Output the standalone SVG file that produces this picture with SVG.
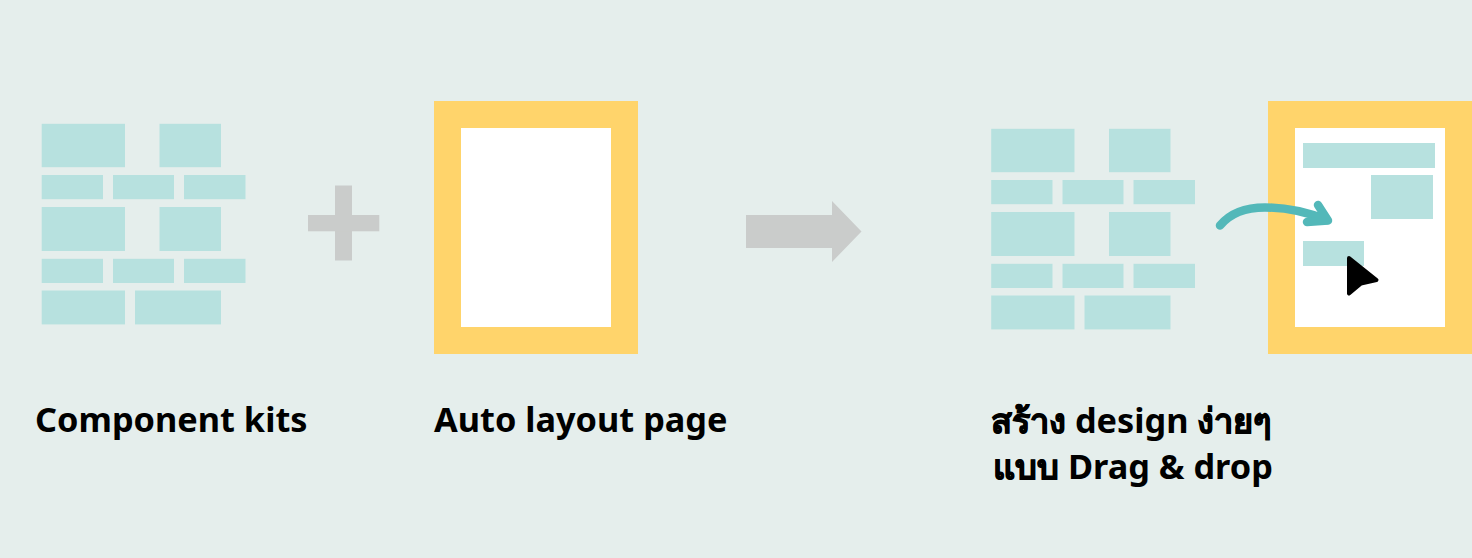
<svg xmlns="http://www.w3.org/2000/svg" width="1472" height="558" viewBox="0 0 1472 558">
<style>
.b{fill:#b7e1df}
.g{fill:#cacccb}
.y{fill:#ffd46b}
.w{fill:#fff}
.c{fill:none;stroke:#53b8b9;stroke-width:8.500;stroke-linecap:round;stroke-linejoin:round}
text{font-family:"Noto Sans","Noto Sans CJK SC",sans-serif;font-weight:700;font-size:34.300px;fill:#000}
.t{stroke:#000;stroke-width:.9px}
</style>
<defs>
<g id="kit">
<rect class="b" x="41.700" y="123.800" width="83.300" height="43.400"/>
<rect class="b" x="159.500" y="123.800" width="61.500" height="43.400"/>
<rect class="b" x="41.700" y="175" width="61.300" height="24.200"/>
<rect class="b" x="113" y="175" width="61" height="24.200"/>
<rect class="b" x="184" y="175" width="61.500" height="24.200"/>
<rect class="b" x="41.700" y="207" width="83.300" height="44"/>
<rect class="b" x="159.500" y="207" width="61.500" height="44"/>
<rect class="b" x="41.700" y="258.800" width="61.300" height="24.200"/>
<rect class="b" x="113" y="258.800" width="61" height="24.200"/>
<rect class="b" x="184" y="258.800" width="61.500" height="24.200"/>
<rect class="b" x="41.700" y="290.500" width="83.300" height="33.900"/>
<rect class="b" x="135" y="290.500" width="86" height="33.900"/>
</g>
</defs>
<rect width="1472" height="558" fill="#e5eeec"/>
<g id="kit-left"><use href="#kit"/></g>
<g id="plus"><rect class="g" x="335" y="185.500" width="17" height="75"/><rect class="g" x="308" y="215" width="71.300" height="16.300"/></g>
<g id="page-left"><rect class="y" x="434" y="101" width="204" height="253"/><rect class="w" x="461" y="128" width="150" height="199"/></g>
<g id="arrow-big"><path class="g" d="M746 215H832V201L861.500 231.500L832 262V248H746Z"/></g>
<g id="kit-right"><use href="#kit" x="949.500" y="5"/></g>
<g id="page-right">
<rect class="y" x="1268" y="101" width="204" height="253"/>
<rect class="w" x="1295" y="128" width="150" height="199"/>
<rect class="b" x="1303" y="143" width="132" height="25"/>
<rect class="b" x="1371" y="175" width="62" height="44"/>
<rect class="b" x="1303" y="241" width="61" height="25"/>
</g>
<g id="connectors">
<path class="c" d="M1220 225.500C1232 211 1248 207.500 1265 207.500C1287 207.500 1307 212 1327 220"/>
<path class="c" d="M1318 205L1328 220.500L1307 222"/>
</g>
<g id="cursor"><path d="M1349 258L1376.500 280L1361 283.500L1349 293.500Z" fill="#000" stroke="#000" stroke-width="4" stroke-linejoin="round"/></g>
<g id="label-1"><text x="35" y="432">Component kits</text></g>
<g id="label-2"><text x="434" y="432">Auto layout page</text></g>
<g id="label-3"><text x="991" y="433"><tspan class="t">สร้าง</tspan> design <tspan class="t">ง่ายๆ</tspan></text><text x="993" y="479"><tspan class="t">แบบ</tspan> Drag &amp; drop</text></g>
</svg>
